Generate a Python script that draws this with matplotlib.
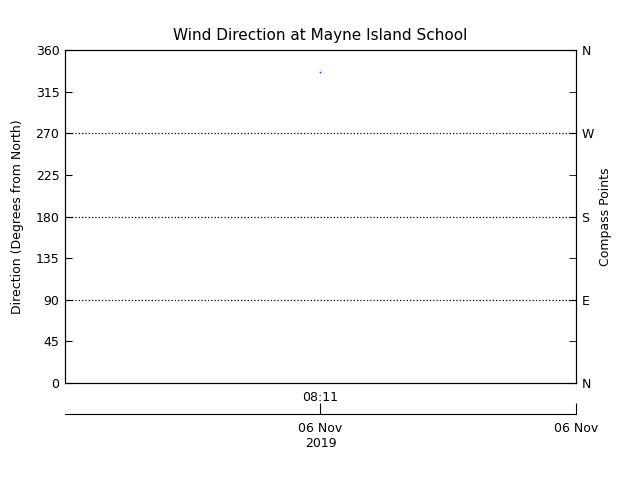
import matplotlib
matplotlib.use("Agg")
import matplotlib.pyplot as plt

# data: a single wind direction observation
obs_minutes = [491]          # 08:11 in minutes since midnight
obs_direction = [336]        # degrees from north
time_ticks = [491]
time_labels = ["08:11"]
date_ticks = [491, 551]
date_labels = ["06 Nov\n2019", "06 Nov"]
deg_ticks = [0, 45, 90, 135, 180, 225, 270, 315, 360]
compass_ticks = [0, 90, 180, 270, 360]
compass_labels = ["N", "E", "S", "W", "N"]

plt.rcParams['font.family'] = 'DejaVu Sans'
plt.rcParams['font.size'] = 9

fig = plt.figure(figsize=(6.4, 4.8), dpi=100)
ax = fig.add_axes([65/640, 97/480, 511/640, 333/480])

ax.plot(obs_minutes, obs_direction, 's', color='#8000ff', markersize=1.2, markeredgewidth=0)
for v in [90, 180, 270]:
    ax.axhline(v, color='black', linestyle=':', linewidth=0.9)

ax.set_xlim(431, 551)
ax.set_ylim(0, 360)
ax.set_yticks(deg_ticks)
ax.tick_params(axis='y', direction='in', length=5, pad=4)
ax.set_xticks(time_ticks)
ax.set_xticklabels(time_labels)
ax.tick_params(axis='x', length=0, pad=6)
ax.set_ylabel("Direction (Degrees from North)", labelpad=8)
ax.set_title("Wind Direction at Mayne Island School", fontsize=11, pad=7)

ax2 = ax.twinx()
ax2.set_ylim(0, 360)
ax2.set_yticks(compass_ticks)
ax2.set_yticklabels(compass_labels)
ax2.set_yticks([45, 135, 225, 315], minor=True)
ax2.tick_params(axis='y', which='both', direction='in', length=5, pad=4)
ax2.set_ylabel("Compass Points")

# secondary date axis below
ax3 = fig.add_axes([65/640, 66/480, 511/640, 0.001])
ax3.set_xlim(431, 551)
for s in ['top', 'left', 'right']:
    ax3.spines[s].set_visible(False)
ax3.set_yticks([])
ax3.set_xticks(date_ticks)
ax3.set_xticklabels(date_labels)
ax3.tick_params(axis='x', direction='in', length=8, pad=6)

fig.savefig("out.png", dpi=100)
